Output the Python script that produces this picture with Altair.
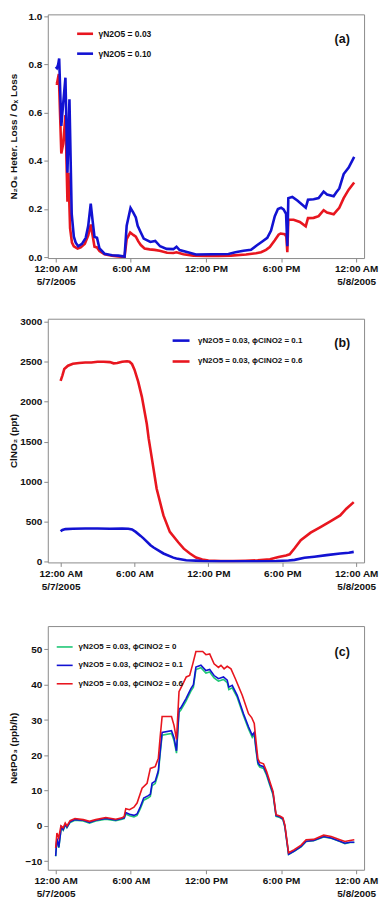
import altair as alt
import pandas as pd

FONT = "Liberation Sans"
RED = "#e8161f"
BLUE = "#1212d2"
GREEN = "#1fc776"

# ---------- shared x axis ----------
tick_hours = [0, 6, 12, 18, 24]
tick_labels = [["12:00 AM", "5/7/2005"], ["6:00 AM"], ["12:00 PM"], ["6:00 PM"], ["12:00 AM", "5/8/2005"]]

# ---------- panel (a) ----------
hours_a_red = [0.0, 0.1, 0.25, 0.45, 0.6, 0.78, 0.94, 1.02, 1.15, 1.3,
               1.45, 1.75, 2.0, 2.33, 2.6, 2.8, 2.95, 3.1, 3.3, 3.5,
               3.9, 4.5, 5.0, 5.5, 5.67, 5.95, 6.2, 6.4, 6.6, 6.8,
               7.1, 7.5, 7.9, 8.3, 8.9, 9.4, 9.65, 10.2, 11.0, 12.0,
               13.0, 14.0, 15.2, 16.0, 16.4, 16.8, 17.1, 17.5, 17.8, 17.96,
               18.3, 18.42, 18.5, 18.58, 19.0, 19.5, 19.97, 20.15, 20.6, 21.0,
               21.4, 21.67, 22.2, 22.4, 22.65, 23.0, 23.4, 23.84]
vals_a_red = [0.72, 0.72, 0.76, 0.43, 0.47, 0.59, 0.23, 0.35, 0.12, 0.06,
              0.045, 0.035, 0.04, 0.055, 0.09, 0.135, 0.09, 0.043, 0.04, 0.025,
              0.012, 0.006, 0.003, 0.0, 0.075, 0.102, 0.092, 0.085, 0.065, 0.05,
              0.036, 0.032, 0.03, 0.026, 0.018, 0.017, 0.02, 0.012, 0.006, 0.005,
              0.005, 0.006, 0.011, 0.016, 0.02, 0.03, 0.042, 0.07, 0.093, 0.098,
              0.095, 0.085, 0.02, 0.155, 0.155, 0.146, 0.128, 0.162, 0.163, 0.17,
              0.195, 0.185, 0.178, 0.19, 0.205, 0.245, 0.28, 0.31]
hours_a_blue = [0.0, 0.1, 0.2, 0.28, 0.45, 0.62, 0.78, 0.94, 1.1, 1.28,
                1.45, 1.6, 1.8, 2.1, 2.4, 2.6, 2.8, 2.95, 3.1, 3.3,
                3.5, 3.9, 4.5, 5.0, 5.5, 5.67, 5.98, 6.2, 6.4, 6.55,
                6.77, 7.03, 7.56, 7.95, 8.34, 8.86, 9.4, 9.65, 9.9, 10.7,
                11.2, 12.5, 13.8, 14.35, 15.0, 15.6, 16.05, 16.5, 16.9, 17.2,
                17.5, 17.75, 18.0, 18.2, 18.4, 18.5, 18.58, 18.9, 19.3, 19.97,
                20.15, 20.6, 21.0, 21.4, 21.67, 22.2, 22.4, 22.65, 23.0, 23.4,
                23.84]
vals_a_blue = [0.79, 0.785, 0.8, 0.825, 0.545, 0.65, 0.745, 0.35, 0.655, 0.18,
               0.085, 0.06, 0.045, 0.055, 0.08, 0.13, 0.222, 0.15, 0.084, 0.08,
               0.036, 0.014, 0.008, 0.006, 0.002, 0.13, 0.204, 0.185, 0.165, 0.13,
               0.105, 0.077, 0.063, 0.067, 0.045, 0.034, 0.033, 0.043, 0.029, 0.018,
               0.011, 0.012, 0.013, 0.02, 0.026, 0.03, 0.048, 0.065, 0.08, 0.11,
               0.17, 0.2, 0.205, 0.198, 0.18, 0.045, 0.245, 0.25, 0.235, 0.205,
               0.238, 0.24, 0.245, 0.272, 0.26, 0.253, 0.268, 0.285, 0.345, 0.372,
               0.416]
series_a = ["\u03b3N2O5 = 0.03", "\u03b3N2O5 = 0.10"]

# ---------- panel (b) ----------
hours_b_red = [0.0, 0.15, 0.3, 0.6, 1.0, 1.5, 2.0, 2.5, 3.0, 3.5,
               4.0, 4.3, 4.6, 5.0, 5.4, 5.6, 5.8, 6.0, 6.3, 6.6,
               7.0, 7.15, 7.4, 7.8, 8.35, 8.87, 9.55, 10.0, 10.5, 11.0,
               11.5, 12.0, 13.0, 14.0, 15.0, 16.0, 17.0, 17.7, 18.3, 18.6,
               19.0, 19.5, 20.3, 21.1, 21.9, 22.7, 23.2, 23.8]
vals_b_red = [2260, 2330, 2410, 2450, 2475, 2485, 2490, 2490, 2500, 2500,
              2495, 2480, 2485, 2500, 2505, 2500, 2470, 2400, 2250, 2060,
              1720, 1540, 1300, 910, 576, 370, 240, 160, 100, 50,
              25, 12, 6, 5, 8, 14, 28, 55, 75, 90,
              165, 265, 360, 431, 502, 576, 660, 743]
hours_b_blue = [0.0, 0.15, 0.4, 1.0, 2.0, 3.0, 4.0, 5.0, 5.5, 5.8,
                6.1, 6.5, 6.75, 7.3, 7.55, 8.35, 9.15, 9.4, 10.2, 11.0,
                11.5, 12.5, 14.0, 16.0, 17.5, 18.5, 19.0, 19.8, 20.6, 21.6,
                22.7, 23.4, 23.8]
vals_b_blue = [377, 395, 405, 410, 412, 412, 410, 412, 410, 400,
               370, 320, 286, 203, 175, 100, 48, 37, 16, 10,
               6, 3, 2, 3, 5, 12, 20, 46, 60, 79,
               100, 110, 120]
series_b = ["\u03b3N2O5 = 0.03, \u03d5ClNO2 = 0.1", "\u03b3N2O5 = 0.03, \u03d5ClNO2 = 0.6"]

# ---------- panel (c) ----------
hours_c = [0.0, 0.1, 0.25, 0.45, 0.6, 0.78, 0.9, 1.15, 1.54, 2.2,
           2.7, 3.2, 4.0, 4.8, 5.3, 5.47, 5.6, 5.9, 6.25, 6.5,
           6.77, 7.03, 7.4, 7.56, 7.7, 7.95, 8.2, 8.34, 8.5, 9.25,
           9.45, 9.65, 9.85, 10.0, 10.4, 10.8, 11.0, 11.2, 11.6, 12.0,
           12.3, 12.65, 13.0, 13.4, 13.7, 13.83, 14.1, 14.5, 15.0, 15.4,
           15.7, 15.86, 16.0, 16.15, 16.3, 16.6, 16.85, 17.1, 17.36, 17.6,
           17.9, 18.15, 18.3, 18.6, 19.05, 19.6, 20.0, 20.6, 21.4, 22.0,
           22.7, 23.1, 23.5, 23.85]
vals_c_green = [-8.6, -3.7, -6.2, -0.4, -1.2, 0.3, -0.5, 1.0, 1.6, 1.4,
                0.8, 1.4, 1.9, 1.5, 1.9, 2.1, 3.4, 2.9, 2.6, 3.0,
                5.0, 7.3, 8.0, 8.4, 11.4, 12.0, 15.0, 20.2, 25.7, 26.2,
                24.2, 20.6, 32.2, 32.8, 35.3, 38.2, 39.3, 44.3, 44.8, 43.3,
                43.6, 41.9, 41.0, 41.5, 40.6, 38.6, 39.1, 36.4, 31.2, 27.5,
                25.1, 25.9, 21.4, 17.5, 16.7, 16.3, 14.3, 11.5, 8.8, 2.7,
                2.4, 1.8, -0.2, -8.1, -7.2, -5.9, -4.4, -4.2, -3.1, -3.5,
                -4.4, -5.0, -4.7, -4.7]
vals_c_blue = [-8.5, -3.5, -6.0, -0.2, -1.0, 0.5, -0.3, 1.2, 1.8, 1.6,
               1.0, 1.6, 2.1, 1.7, 2.1, 2.3, 3.8, 3.3, 3.0, 3.4,
               5.5, 7.9, 8.6, 9.0, 12.1, 12.7, 15.7, 21.0, 26.5, 27.0,
               25.0, 21.3, 33.0, 33.5, 36.0, 38.9, 40.0, 45.0, 45.5, 44.0,
               44.3, 42.6, 41.7, 42.2, 41.3, 39.3, 39.8, 37.0, 31.8, 28.1,
               25.7, 26.5, 22.0, 18.0, 17.2, 16.8, 14.8, 12.0, 9.3, 2.9,
               2.6, 2.0, 0.0, -8.0, -7.1, -5.8, -4.3, -4.1, -3.0, -3.4,
               -4.3, -4.9, -4.6, -4.6]
hours_c_red = [0.0, 0.1, 0.24, 0.42, 0.6, 0.76, 0.9, 1.15, 1.54, 2.2,
               2.7, 3.2, 4.0, 4.8, 5.3, 5.47, 5.6, 5.9, 6.25, 6.5,
               6.9, 7.3, 7.56, 7.95, 8.2, 8.34, 8.5, 9.25, 9.45, 9.65,
               9.85, 10.17, 10.43, 10.7, 10.95, 11.2, 11.74, 12.0, 12.3, 12.65,
               13.0, 13.2, 13.45, 13.7, 14.0, 14.35, 14.9, 15.4, 15.65, 15.86,
               16.0, 16.15, 16.3, 16.6, 16.85, 17.1, 17.36, 17.6, 17.9, 18.15,
               18.3, 18.6, 19.05, 19.6, 20.0, 20.6, 21.4, 22.0, 22.7, 23.1,
               23.5, 23.85]
vals_c_red = [-6.2, -2.0, -3.4, 0.0, -0.5, 0.85, 0.0, 1.5, 2.1, 1.8,
              1.3, 1.8, 2.4, 1.9, 2.3, 2.7, 4.9, 4.6, 5.3, 6.5,
              10.7, 12.1, 16.3, 16.8, 19.2, 25.0, 31.0, 31.0, 28.5, 24.5,
              38.0, 40.3, 42.2, 42.6, 45.9, 49.4, 49.4, 48.5, 48.7, 45.9,
              44.9, 45.5, 44.5, 45.2, 44.5, 41.7, 37.0, 31.8, 30.7, 29.0,
              24.0, 19.0, 18.0, 17.6, 15.4, 12.6, 9.8, 3.2, 2.8, 2.3,
              0.4, -7.6, -6.7, -5.4, -3.9, -3.8, -2.6, -3.0, -3.9, -4.4,
              -4.1, -3.9]
series_c = ["\u03b3N2O5 = 0.03, \u03d5ClNO2 = 0",
            "\u03b3N2O5 = 0.03, \u03d5ClNO2 = 0.1",
            "\u03b3N2O5 = 0.03, \u03d5ClNO2 = 0.6"]


def long(parts, field):
    frames = []
    for name, hrs, vals in parts:
        frames.append(pd.DataFrame({"hour": hrs, "value": vals, field: name}))
    return pd.concat(frames, ignore_index=True)


df_a = long([(series_a[0], hours_a_red, vals_a_red), (series_a[1], hours_a_blue, vals_a_blue)], "sa")
df_b = long([(series_b[1], hours_b_red, vals_b_red), (series_b[0], hours_b_blue, vals_b_blue)], "sb")
df_c = long([(series_c[0], hours_c, vals_c_green), (series_c[1], hours_c, vals_c_blue),
             (series_c[2], hours_c_red, vals_c_red)], "sc")


def label_expr():
    parts = []
    for h, lab in zip(tick_hours, tick_labels):
        txt = "[" + ",".join("'" + s + "'" for s in lab) + "]" if len(lab) > 1 else "'" + lab[0] + "'"
        parts.append((h, txt))
    expr = "''"
    for h, txt in reversed(parts):
        expr = f"datum.value == {h} ? {txt} : ({expr})"
    return expr


W = 318
H = 245


def panel(df, domain, colors, xdom, ydom, yticks, yfmt, ytitle, sw,
          lx, ly, lrow, loff, lsize, lfont, tag, tx, ty, field):
    lines = alt.Chart(df).mark_line(strokeWidth=sw, clip=True).encode(
        x=alt.X("hour:Q", scale=alt.Scale(domain=xdom, nice=False, zero=False),
                axis=alt.Axis(values=tick_hours, labelExpr=label_expr(), title=None,
                              labelLineHeight=13, tickSize=4, labelPadding=2)),
        y=alt.Y("value:Q", scale=alt.Scale(domain=ydom, nice=False, zero=False),
                axis=alt.Axis(values=yticks, format=yfmt, title=ytitle, titlePadding=2,
                              minExtent=27, maxExtent=27, tickSize=4, labelPadding=2)),
        color=alt.Color(field + ":N", scale=alt.Scale(domain=domain, range=colors),
                        legend=alt.Legend(title=None, orient="none", legendX=lx, legendY=ly,
                                          symbolType="stroke", symbolStrokeWidth=sw,
                                          symbolSize=lsize, labelFont=FONT, labelFontSize=lfont,
                                          labelFontWeight="bold", labelColor="#111111",
                                          rowPadding=lrow, labelOffset=loff, padding=0)),
    )
    lab = alt.Chart(pd.DataFrame({"t": [tag]})).mark_text(
        font=FONT, fontSize=12.5, fontWeight="bold", color="#111111", align="center", baseline="middle"
    ).encode(text="t:N", x=alt.value(tx), y=alt.value(ty))
    return alt.layer(lines, lab).properties(width=W, height=H)


pa = panel(df_a, series_a, [RED, BLUE], [-0.63, 24.63], [-0.004, 1.008],
           [0.0, 0.2, 0.4, 0.6, 0.8, 1.0], ".1f", "N\u2082O\u2085 Heter. Loss / O\u2093 Loss", 2.6,
           28, 10, 5, 4, 256, 8.5, "(a)", 296, 25, "sa")
pb = panel(df_b, series_b, [BLUE, RED], [-1.04, 24.64], [-12, 3038],
           [0, 500, 1000, 1500, 2000, 2500, 3000], "d", "ClNO\u2082 (ppt)", 2.6,
           124, 12, 5, 7, 289, 8, "(b)", 296, 24, "sb")
pc = panel(df_c, series_c, [GREEN, BLUE, RED], [-0.63, 24.63], [-12.4, 56.6],
           [-10, 0, 10, 20, 30, 40, 50], "d", "NetPO\u2083 (ppb/h)", 1.6,
           8, 12, 5.5, 5, 256, 8, "(c)", 296, 26, "sc")

top_pair = alt.vconcat(pa, pb, spacing=28).resolve_scale(
    color="independent", x="independent", y="independent"
).resolve_legend(color="independent")

chart = alt.vconcat(top_pair, pc, spacing=33).resolve_scale(
    color="independent", x="independent", y="independent"
).resolve_legend(color="independent").properties(
    padding={"left": 0, "top": 0, "right": 0, "bottom": 0}
).configure_view(stroke="#8a8a8a", strokeWidth=1).configure_axis(
    labelFont=FONT, labelFontWeight="bold", labelFontSize=10, labelColor="#111111",
    titleFont=FONT, titleFontWeight="bold", titleFontSize=10, titleColor="#111111",
    domain=False, grid=False, tickColor="#8a8a8a"
)

chart.save("out.html", embed_options={"renderer": "svg", "actions": False})
